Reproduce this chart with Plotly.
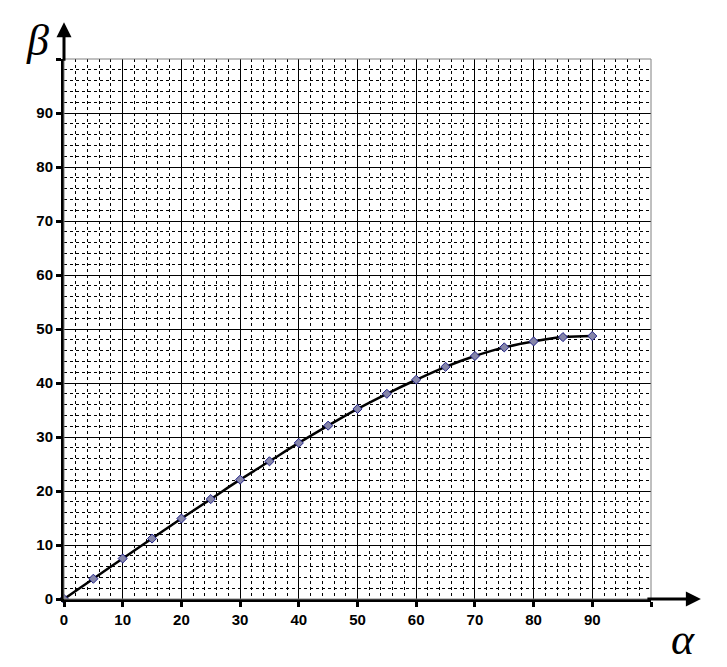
import plotly.graph_objects as go

# angle of incidence (alpha) and angle of refraction (beta), degrees
alpha = [0, 5, 10, 15, 20, 25, 30, 35, 40, 45, 50, 55, 60, 65, 70, 75, 80, 85, 90]
beta = [0, 3.75, 7.5, 11.2, 14.9, 18.5, 22.1, 25.5, 28.9, 32.1,
        35.2, 38.0, 40.6, 43.0, 45.0, 46.6, 47.7, 48.5, 48.7]

tick_vals = list(range(0, 101, 10))
tick_text = ["<b>%d</b>" % v for v in range(0, 91, 10)] + [""]

fig = go.Figure()
fig.add_trace(go.Scatter(
    x=alpha, y=beta, mode="lines+markers",
    line=dict(color="black", width=2.5, shape="spline"),
    marker=dict(symbol="diamond", size=7, color="#8585a8",
                line=dict(color="#22228a", width=1)),
    showlegend=False, cliponaxis=False))

axis_common = dict(
    tickmode="array", tickvals=tick_vals, ticktext=tick_text,
    showgrid=True, gridcolor="black", gridwidth=1,
    minor=dict(dtick=2, showgrid=True, gridcolor="black", gridwidth=1, griddash="3px,3px"),
    showline=True, linecolor="black", linewidth=3,
    ticks="outside", ticklen=5, tickwidth=3, tickcolor="black",
    zeroline=False, fixedrange=True,
    tickfont=dict(family="Liberation Sans, Arial", size=15, color="black"),
)
fig.update_xaxes(range=[0, 100], **axis_common)
fig.update_yaxes(range=[0, 100], **axis_common)

# thin grey frame on the top and right
fig.add_shape(type="rect", xref="paper", yref="paper", x0=0, y0=0, x1=1, y1=1,
              line=dict(color="#808080", width=1), layer="above")

# axis arrows
fig.add_annotation(x=1.085, y=0, xref="paper", yref="y", ax=-55, ay=0,
                   axref="pixel", ayref="pixel", text="", showarrow=True,
                   arrowhead=2, arrowsize=1, arrowwidth=3, arrowcolor="black")
fig.add_annotation(x=0, y=1.068, xref="x", yref="paper", ax=0, ay=40,
                   axref="pixel", ayref="pixel", text="", showarrow=True,
                   arrowhead=2, arrowsize=1, arrowwidth=3, arrowcolor="black")

# axis symbols
fig.add_annotation(x=-0.045, y=1.035, xref="paper", yref="paper", text="<i>β</i>",
                   showarrow=False, xanchor="center", yanchor="middle",
                   font=dict(family="Liberation Serif, Times New Roman", size=44, color="black"))
fig.add_annotation(x=1.055, y=-0.025, xref="paper", yref="paper", text="<i>α</i>",
                   showarrow=False, xanchor="center", yanchor="top",
                   font=dict(family="Liberation Serif, Times New Roman", size=44, color="black"))

# the page adds an 8px body margin, so the figure is sized to fit inside it
fig.update_layout(
    width=719, height=659,
    margin=dict(l=56, r=76, t=51, b=68),
    paper_bgcolor="white", plot_bgcolor="white",
)

fig.write_html("out.html", config={"displayModeBar": False})
